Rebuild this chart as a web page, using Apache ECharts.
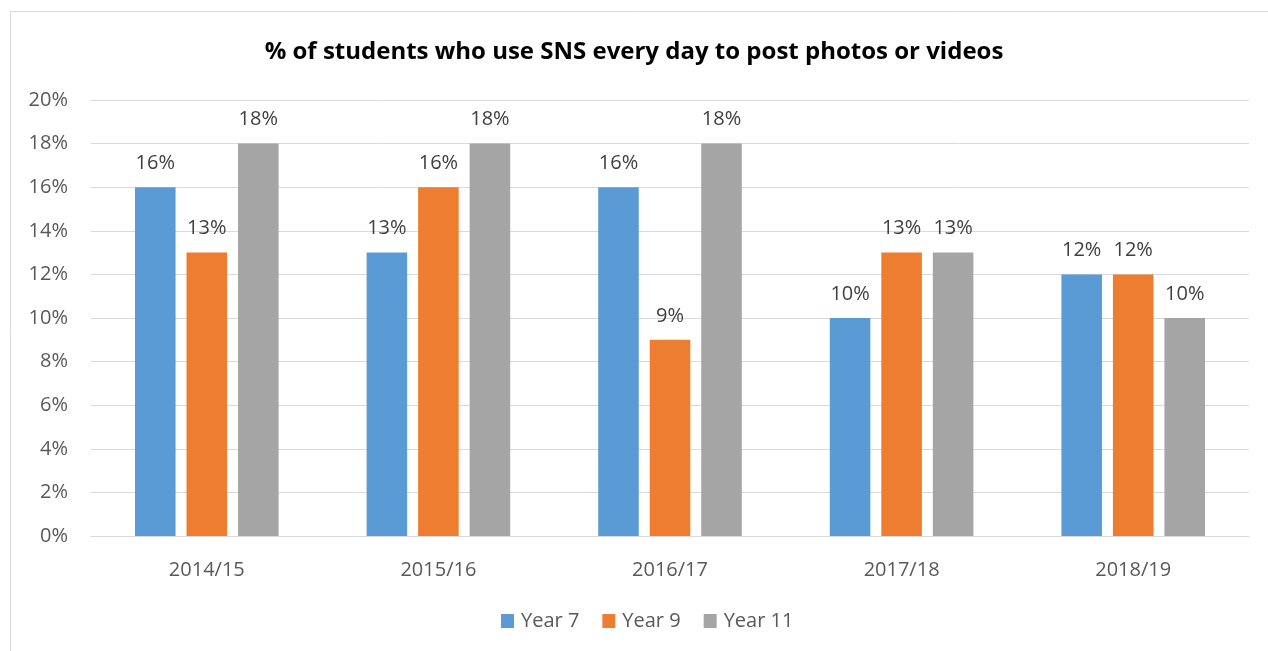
<!DOCTYPE html>
<html>
<head>
<meta charset="utf-8">
<script src="https://cdn.jsdelivr.net/npm/echarts@6/dist/echarts.min.js"></script>
<style>
  html, body { margin: 0; padding: 0; background: #fff; }
  #chart { width: 1268px; height: 651px; }
</style>
</head>
<body>
<div id="chart"></div>
<script>
// School years on the category axis
const years = ['2014/15', '2015/16', '2016/17', '2017/18', '2018/19'];
// Share of students (%) posting photos or videos on SNS every day
const year7 = [16, 13, 16, 10, 12];
const year9 = [13, 16, 9, 13, 12];
const year11 = [18, 18, 18, 13, 10];
const yTicks = [0, 2, 4, 6, 8, 10, 12, 14, 16, 18, 20];

const font = 'Open Sans';
const textColor = '#595959';

const labelStyle = {
  show: true,
  position: 'top',
  distance: 14,
  color: '#404040',
  fontFamily: font,
  fontSize: 20,
  formatter: p => p.value + '%'
};

function barSeries(name, data, color) {
  return {
    name: name,
    type: 'bar',
    data: data,
    barGap: '27%',
    barCategoryGap: '38%',
    itemStyle: { color: color },
    label: labelStyle
  };
}

const chart = echarts.init(document.getElementById('chart'), null, { renderer: 'canvas' });
chart.setOption({
  animation: false,
  backgroundColor: '#ffffff',
  graphic: [{
    type: 'rect',
    shape: { x: 10.5, y: 11.5, width: 1300, height: 700 },
    style: { fill: 'none', stroke: '#D9D9D9', lineWidth: 1 },
    silent: true
  }],
  title: {
    text: '% of students who use SNS every day to post photos or videos',
    left: 'center',
    top: 35,
    textStyle: { fontFamily: font, fontWeight: 'bold', fontSize: 24, color: '#000' }
  },
  legend: {
    bottom: 15,
    left: 496,
    itemWidth: 13,
    itemHeight: 14,
    itemGap: 23,
    icon: 'rect',
    textStyle: { fontFamily: font, fontSize: 20, color: textColor, padding: [0, 0, 0, 2] },
    data: ['Year 7', 'Year 9', 'Year 11']
  },
  grid: { left: 91, right: 19, top: 100, bottom: 115 },
  xAxis: {
    type: 'category',
    data: years,
    axisLine: { show: true, lineStyle: { color: '#D9D9D9', width: 1 } },
    axisTick: { show: false },
    axisLabel: { fontFamily: font, fontSize: 20, color: textColor, margin: 24 }
  },
  yAxis: {
    type: 'value',
    min: yTicks[0],
    max: yTicks[yTicks.length - 1],
    interval: yTicks[1] - yTicks[0],
    axisLine: { show: false },
    axisTick: { show: false },
    splitLine: { lineStyle: { color: '#D9D9D9', width: 1 } },
    axisLabel: { fontFamily: font, fontSize: 20, color: textColor, margin: 23, formatter: v => v + '%' }
  },
  series: [
    barSeries('Year 7', year7, '#5B9BD5'),
    barSeries('Year 9', year9, '#ED7D31'),
    barSeries('Year 11', year11, '#A5A5A5')
  ]
});
</script>
</body>
</html>
